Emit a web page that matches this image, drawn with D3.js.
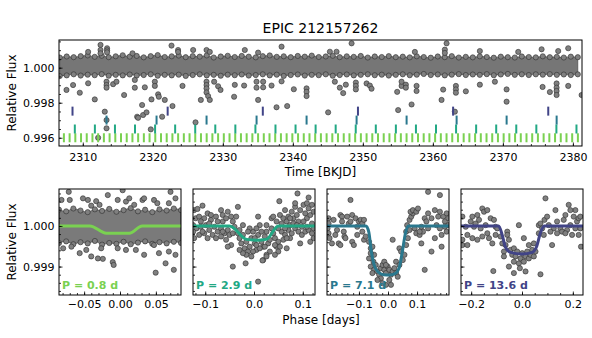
<!DOCTYPE html>
<html lang="en">
<head>
<meta charset="UTF-8">
<title>EPIC 212157262</title>
<script src="https://d3js.org/d3.v7.min.js"></script>
<style>
  body { margin: 0; background: #fff; }
  svg text { font-family: "DejaVu Sans", sans-serif; }
</style>
</head>
<body>
<div id="chart"></div>
<script>

// ---- data ----
// planets (colour follows viridis), periods / first transit in BKJD
const planetLabels = ["P = 0.8 d", "P = 2.9 d", "P = 7.1 d", "P = 13.6 d"];
const planetColors = ["#7ad151", "#22a884", "#2a788e", "#414487"];
const planetPeriods = [0.8157, 2.866, 7.143, 13.59];
const planetEpochs = [2307.3, 2308.86, 2313.39, 2308.53];
const markerLevels = [0.9960, 0.99650, 0.99701, 0.99752];

// light curve: the dense band is kept as an upper/lower envelope (1 day steps)
const bandStart = 2306.7;
const bandHi = [
1.00058,1.00064,1.00060,1.00066,1.00070,1.00062,1.00068,1.00060,1.00065,1.00071,
1.00063,1.00067,1.00059,1.00066,1.00072,1.00061,1.00065,1.00069,1.00060,1.00066,
1.00063,1.00070,1.00058,1.00064,1.00068,1.00061,1.00067,1.00063,1.00059,1.00066,
1.00070,1.00062,1.00065,1.00060,1.00067,1.00063,1.00069,1.00061,1.00064,1.00068,
1.00060,1.00065,1.00062,1.00067,1.00058,1.00064,1.00061,1.00066,1.00060,1.00063,
1.00059,1.00065,1.00061,1.00057,1.00064,1.00060,1.00066,1.00058,1.00062,1.00059,
1.00065,1.00061,1.00057,1.00063,1.00060,1.00058,1.00064,1.00061,1.00059,1.00065,
1.00060,1.00062,1.00058,1.00063,1.00060];
const bandLo = [
0.99952,0.99956,0.99962,0.99955,0.99960,0.99957,0.99963,0.99954,0.99959,0.99956,
0.99961,0.99955,0.99958,0.99962,0.99954,0.99959,0.99956,0.99960,0.99953,0.99958,
0.99962,0.99956,0.99959,0.99954,0.99960,0.99957,0.99961,0.99955,0.99958,0.99962,
0.99956,0.99960,0.99953,0.99958,0.99961,0.99955,0.99959,0.99957,0.99962,0.99954,
0.99958,0.99961,0.99956,0.99959,0.99962,0.99957,0.99960,0.99955,0.99959,0.99962,
0.99957,0.99960,0.99964,0.99958,0.99961,0.99956,0.99960,0.99963,0.99958,0.99961,
0.99959,0.99963,0.99957,0.99961,0.99964,0.99959,0.99962,0.99958,0.99962,0.99960,
0.99963,0.99959,0.99961,0.99958,0.99962];

// points outside the band [time, flux]
const lcOutliers = [
[2312.53,1.0013],[2312.53,1.00101],[2312.53,1.00082],[2313.47,1.00111],[2313.47,1.00099],[2313.47,1.00088],
[2322.67,1.00126],[2317.10,1.00082],[2323.61,1.00101],[2323.61,1.00090],[2325.76,1.00101],[2327.67,1.00101],
[2328.14,1.00090],[2333.14,1.00101],[2338.39,1.00120],[2335.04,1.00086],[2310.76,1.00090],
[2348.39,1.00139],[2361.96,1.00139],[2345.29,1.00091],[2346.24,1.00091],[2375.53,1.00105],[2379.33,1.00111],
[2361.71,1.00103],[2361.71,1.00084],[2366.71,1.00095],[2372.19,1.00090],[2377.90,1.00095],[2357.43,1.00090],
[2307.67,0.99873],[2308.61,0.99901],[2309.57,0.99857],[2310.76,0.99911],[2311.71,0.99819],[2313.14,0.99749],
[2313.39,0.99701],[2312.19,0.99600],[2313.39,0.99654],[2313.39,0.99920],[2313.39,0.99901],[2313.39,0.99886],
[2314.33,0.99906],[2314.81,0.99920],[2315.90,0.99844],[2317.43,0.99930],[2317.43,0.99886],[2317.76,0.99720],
[2317.90,0.99714],[2318.47,0.99787],[2318.61,0.99730],[2319.10,0.99745],[2318.86,0.99888],[2319.81,0.99819],
[2319.71,0.99648],[2320.29,0.99920],[2320.29,0.99896],[2320.76,0.99848],[2320.86,0.99834],[2321.33,0.99720],
[2321.71,0.99816],[2322.81,0.99781],[2324.24,0.99896],[2326.10,0.99688],[2326.86,0.99816],[2327.67,0.99920],
[2327.67,0.99901],[2327.67,0.99882],[2327.67,0.99859],[2327.90,0.99838],[2328.14,0.99816],[2328.76,0.99920],
[2329.33,0.99894],[2329.67,0.99873],[2331.61,0.99834],[2331.71,0.99902],[2333.04,0.99898],[2334.81,0.99920],
[2334.81,0.99886],[2335.04,0.99816],[2335.76,0.99920],[2335.76,0.99888],[2336.96,0.99898],[2337.67,0.99774],
[2338.39,0.99922],[2339.19,0.99781],[2340.14,0.99877],[2341.96,0.99882],[2341.96,0.99862],[2341.96,0.99838],
[2345.04,0.99745],[2346.00,0.99920],[2346.71,0.99886],[2347.19,0.99855],[2347.57,0.99903],[2349.00,0.99915],
[2349.00,0.99896],[2349.00,0.99876],[2350.53,0.99910],[2351.00,0.99898],[2351.24,0.99880],[2355.04,0.99758],
[2354.90,0.99862],[2355.53,0.99896],[2355.53,0.99920],[2356.14,0.99903],[2356.14,0.99886],[2356.96,0.99790],
[2357.67,0.99896],[2357.67,0.99867],[2361.24,0.99816],[2361.47,0.99875],[2363.14,0.99749],[2363.29,0.99896],
[2363.29,0.99876],[2363.29,0.99857],[2364.71,0.99865],[2366.71,0.99903],[2368.86,0.99920],[2370.53,0.99806],
[2370.53,0.99876],[2375.67,0.99890],[2376.71,0.99861],[2377.67,0.99910],[2377.67,0.99886],[2377.67,0.99867],
[2377.67,0.99844],[2379.33,0.99896],[2381.24,0.99844]];

// folded panels
const phaseDomains = [[-0.085, 0.085], [-0.125, 0.125], [-0.21, 0.21], [-0.24, 0.24]];
const phaseTicks = [[-0.05, 0, 0.05], [-0.1, 0, 0.1], [-0.1, 0, 0.1], [-0.2, 0, 0.2]];
const phaseMinor = [0.01, 0.02, 0.02, 0.05];
const phaseFormats = [".2f", ".1f", ".1f", ".1f"];

// P = 0.8 d: dense band as envelope + scattered points
const band08Start = -0.085;
const band08Hi = [1.00040,1.00036,1.00043,1.00038,1.00034,1.00041,1.00037,1.00042,1.00035,1.00039,1.00044,1.00036,1.00040,1.00034,1.00041,1.00038,1.00043,1.00039];
const band08Lo = [0.99958,0.99962,0.99955,0.99960,0.99957,0.99963,0.99954,0.99958,0.99956,0.99961,0.99955,0.99959,0.99962,0.99956,0.99960,0.99957,0.99961,0.99958];
const pts08 = [
[-0.0714,1.00084],[-0.0815,1.00064],[-0.0700,1.00064],[-0.0447,1.00064],[-0.0332,1.00061],[-0.0170,1.00076],
[0.0037,1.00088],[0.0083,1.00060],[0.0313,1.00064],[0.0474,1.00064],[0.0704,1.00084],[0.0681,1.00056],
[-0.0401,1.00050],[0.0198,1.00052],[0.0336,1.00068],[-0.0516,1.00068],[-0.0032,1.00064],[0.0520,1.00056],
[0.0773,1.00068],[-0.0285,1.00052],[0.0129,1.00068],
[-0.0792,0.99945],[-0.0562,0.99933],[-0.0401,0.99925],[-0.0308,0.99920],[-0.0239,0.99919],[-0.0101,0.99911],
[-0.0088,0.99904],[-0.0032,0.99945],[0.0083,0.99941],[0.0221,0.99941],[0.0336,0.99929],[0.0474,0.99953],
[0.0497,0.99885],[0.0543,0.99933],[0.0635,0.99908],[0.0681,0.99937],[0.0750,0.99892],[0.0773,0.99929],
[-0.0470,0.99941],[-0.0262,0.99945],[-0.0677,0.99949]];

const pts29 = [
[-0.1227,1.00039],[-0.1158,1.00042],[-0.1055,1.00050],[-0.1193,1.00019],[-0.1124,1.00023],[-0.1020,1.00019],
[-0.0951,1.00031],[-0.0882,1.00015],[-0.0779,1.00023],[-0.0675,1.00039],[-0.0641,1.00027],[-0.0537,1.00035],
[-0.0468,1.00023],[-0.0434,1.00011],[-0.1248,1.00002],[-0.1179,0.99994],[-0.1089,0.99998],[-0.0986,1.00002],
[-0.0917,0.99990],[-0.0813,0.99998],[-0.0744,0.99986],[-0.0675,0.99994],[-0.0606,0.99982],[-0.0537,0.99990],
[-0.0503,0.99978],[-0.1227,0.99970],[-0.1124,0.99978],[-0.1020,0.99982],[-0.0951,0.99970],[-0.0848,0.99978],
[-0.0779,0.99970],[-0.0675,0.99974],[-0.0572,0.99966],[-0.0399,0.99998],[-0.0365,1.00023],[-0.0330,1.00047],
[-0.1055,0.99986],[-0.0882,1.00027],[-0.0641,1.00011],[-0.0434,0.99982],[-0.0468,0.99953],[-0.0537,0.99949],
[-0.1089,1.00011],[-0.0744,1.00011],[-0.0572,1.00019],[-0.0917,1.00006],[-0.1248,0.99986],[-0.0641,0.99986],
[-0.0330,0.99982],[-0.0296,0.99970],[-0.0261,0.99957],[-0.0227,0.99978],[-0.0192,0.99945],[-0.0158,0.99961],
[-0.0123,0.99937],[-0.0089,0.99949],[-0.0054,0.99970],[-0.0020,0.99986],[0.0015,0.99957],[0.0049,0.99941],
[0.0084,0.99978],[0.0118,1.00002],[0.0084,1.00023],[0.0153,0.99961],[0.0187,0.99949],[0.0222,0.99974],
[0.0256,0.99986],[0.0291,0.99957],[0.0325,0.99966],[0.0360,0.99994],[0.0394,0.99982],[0.0429,0.99970],
[0.0463,0.99949],[0.0498,0.99937],[0.0498,0.99961],[0.0429,0.99929],[0.0325,0.99937],[0.0256,0.99929],
[0.0187,0.99916],[0.0118,0.99945],[-0.0020,0.99937],[-0.0158,0.99929],[-0.0227,0.99933],[-0.0296,0.99941],
[-0.0089,0.99994],[0.0049,0.99994],[0.0256,1.00002],[0.0360,1.00019],[0.0394,1.00023],[-0.0296,0.99990],
[-0.0227,1.00002],[-0.0123,0.99986],[0.0015,0.99970],[0.0153,0.99986],[0.0222,0.99949],[-0.0054,0.99925],
[0.0049,0.99953],[0.0429,0.99953],
[-0.0434,0.99900],[-0.0172,0.99908],[0.0084,0.99863],[0.0256,0.99925],[0.0174,0.99915],
[0.0532,1.00027],[0.0567,1.00006],[0.0601,1.00019],[0.0636,1.00039],[0.0670,1.00011],[0.0705,1.00023],
[0.0739,1.00002],[0.0774,1.00035],[0.0808,1.00019],[0.0843,1.00047],[0.0877,1.00027],[0.0912,1.00011],
[0.0946,1.00039],[0.0981,0.99998],[0.1015,1.00052],[0.1050,1.00031],[0.1084,1.00019],[0.1119,1.00043],
[0.1153,1.00027],[0.1188,1.00006],[0.1222,1.00035],[0.0567,0.99986],[0.0636,0.99978],[0.0705,0.99990],
[0.0774,0.99982],[0.0843,0.99994],[0.0912,0.99986],[0.0981,0.99978],[0.1050,0.99986],[0.1119,0.99990],
[0.1188,0.99982],[0.1222,0.99970],[0.0601,0.99966],[0.0739,0.99970],[0.0946,0.99957],[0.1153,0.99961],
[0.0532,0.99949],[0.0670,0.99945],[0.0891,1.00080],[0.1119,1.00070],[0.0519,1.00061],[0.0843,1.00056],
[0.1084,1.00056],[0.1188,1.00052],[0.0636,0.99994],[0.1015,1.00011],[0.0808,1.00006],[0.0463,1.00011],
[0.0498,0.99994],[0.1222,0.99994],[0.0739,1.00019],[0.0877,1.00002],[0.1084,0.99998],[0.0670,0.99970]];

const pts71 = [
[-0.2046,1.00019],[-0.2046,1.00006],[-0.2081,0.99994],[-0.2046,0.99982],[-0.2011,0.99970],[-0.1872,1.00015],
[-0.1814,0.99978],[-0.1755,0.99990],[-0.1697,0.99957],[-0.1639,1.00027],[-0.1581,1.00023],[-0.1581,1.00011],
[-0.1523,0.99986],[-0.1500,0.99974],[-0.1465,0.99970],[-0.1407,1.00023],[-0.1349,1.00006],[-0.1291,1.00064],
[-0.1291,1.00011],[-0.1233,1.00027],[-0.1233,0.99961],[-0.1175,0.99953],[-0.1117,1.00019],[-0.1059,0.99998],
[-0.1001,1.00011],[-0.0942,1.00015],[-0.0884,1.00006],[-0.0826,1.00015],[-0.0884,0.99986],[-0.1059,0.99978],
[-0.1930,0.99957],[-0.1639,0.99953],[-0.0826,0.99966],[-0.0768,0.99974],
[-0.0652,0.99961],[-0.0594,0.99945],[-0.0536,0.99949],[-0.0478,0.99929],[-0.0594,0.99933],[-0.0652,0.99920],
[-0.0501,0.99912],[-0.0420,0.99904],[-0.0594,0.99900],[-0.0478,0.99892],[-0.0536,0.99884],
[-0.0362,0.99888],[-0.0304,0.99880],[-0.0246,0.99896],[-0.0188,0.99904],[-0.0129,0.99892],[-0.0071,0.99884],
[-0.0013,0.99900],[0.0045,0.99892],[0.0103,0.99880],[0.0161,0.99888],[0.0219,0.99896],[0.0277,0.99884],
[0.0335,0.99875],[-0.0129,0.99912],[-0.0071,0.99904],[-0.0246,0.99871],[-0.0362,0.99867],[0.0045,0.99867],
[0.0103,0.99855],[-0.0071,0.99855],[0.0161,0.99966],[0.0393,0.99945],[0.0451,0.99937],[0.0277,0.99912],
[0.0393,0.99904],[0.0509,0.99916],[-0.0188,0.99859],
[0.0567,0.99929],[0.0625,0.99953],[0.0625,0.99986],[0.0684,0.99970],[0.0660,1.00002],[0.0742,1.00015],
[0.0800,1.00023],[0.0858,1.00031],
[0.0776,1.00035],[0.0858,1.00039],[0.0974,1.00035],[0.1032,1.00043],[0.0916,0.99994],[0.0974,0.99982],
[0.1090,0.99978],[0.1148,0.99998],[0.1206,0.99986],[0.1148,0.99957],[0.1264,1.00019],[0.1322,1.00011],
[0.1380,1.00031],[0.1380,0.99994],[0.1497,1.00019],[0.1497,0.99937],[0.1613,1.00039],[0.1671,1.00002],
[0.1729,1.00023],[0.1787,1.00035],[0.1787,0.99994],[0.1845,0.99978],[0.1845,0.99949],[0.1903,1.00023],
[0.1961,1.00011],[0.1961,0.99998],[0.2019,1.00031],[0.2077,1.00019],[0.2077,1.00002],[0.2019,0.99986],
[0.1380,1.00084],[0.1787,1.00076],[0.1264,0.99892],[0.1613,0.99970],[0.1090,0.99986],[0.0742,0.99990]];

const pts136 = [
[-0.2345,1.00023],[-0.2345,0.99966],[-0.2345,0.99953],[-0.2149,0.99978],[-0.2149,0.99953],[-0.2018,1.00011],
[-0.1953,1.00023],[-0.1887,0.99998],[-0.1822,1.00006],[-0.1757,1.00027],[-0.1691,1.00015],[-0.1626,0.99994],
[-0.1757,0.99966],[-0.1561,1.00043],[-0.1495,1.00035],[-0.1365,1.00039],[-0.1430,1.00002],[-0.1365,0.99982],
[-0.1299,0.99970],[-0.1234,1.00019],[-0.1103,1.00015],[-0.1038,0.99998],[-0.1168,0.99957],[-0.0972,0.99994],
[-0.2214,0.99998],[-0.1953,0.99970],[-0.1561,0.99974],[-0.1038,0.99978],
[-0.0842,0.99974],[-0.0776,0.99957],[-0.0711,0.99937],[-0.0711,0.99925],[-0.0646,0.99953],[-0.0580,0.99986],
[-0.0580,0.99978],
[-0.0515,0.99966],[-0.0450,0.99941],[-0.0384,0.99929],[-0.0319,0.99945],[-0.0253,0.99925],[-0.0188,0.99937],
[-0.0123,0.99908],[-0.0057,0.99920],[0.0008,0.99933],[0.0073,0.99912],[0.0139,0.99925],[0.0204,0.99937],
[0.0269,0.99920],[0.0335,0.99929],[0.0400,0.99941],[0.0466,0.99925],[0.0531,0.99937],[-0.0123,1.00002],
[0.0073,0.99970],[0.0269,0.99953],[0.0466,0.99957],[-0.0515,0.99900],[-0.0319,0.99884],[0.0139,0.99888],
[0.0727,0.99881],[-0.1129,0.99889],[-0.0084,0.99896],[-0.0319,0.99912],
[0.0662,0.99982],[0.0662,1.00002],[0.0727,1.00006],[0.0792,0.99994],[0.0858,0.99978],[0.0884,1.00015],
[0.0923,1.00068],[0.0988,1.00023],[0.1054,1.00002],[0.1184,0.99953],[0.1250,0.99994],[0.1315,1.00039],
[0.1380,1.00011],[0.1380,0.99982],[0.1511,0.99994],[0.1577,0.99986],[0.1642,1.00015],[0.1707,1.00027],
[0.1773,0.99990],[0.1838,1.00052],[0.1903,1.00002],[0.1969,0.99978],[0.2034,1.00023],[0.2100,0.99994],
[0.2100,1.00039],[0.2165,1.00011],[0.2230,1.00019],[0.2230,0.99978],[0.2296,0.99994],[0.2296,1.00023],
[0.2322,0.99949],[0.1903,1.00039],[0.1119,0.99986],[0.1707,0.99982]];

// transit models [phase, flux]
const model08 = [[-0.085,1],[-0.042,1],[-0.019,0.99982],[0.013,0.99982],[0.031,1],[0.085,1]];
const model29 = [[-0.125,1],[-0.050,1],[-0.015,0.99967],[0.005,0.99965],[0.025,0.99967],[0.050,1],[0.125,1]];
const model71 = [[-0.21,1],[-0.076,1],[-0.066,0.99985],[-0.058,0.99940],[-0.048,0.99905],[-0.036,0.99888],
  [-0.015,0.99880],[0.005,0.99879],[0.025,0.99883],[0.038,0.99896],[0.049,0.99935],[0.060,0.99982],[0.070,1],[0.21,1]];
const model136 = [[-0.24,1],[-0.092,1],[-0.078,0.99978],[-0.065,0.99948],[-0.045,0.99935],[0,0.99931],
  [0.040,0.99935],[0.058,0.99950],[0.072,0.99982],[0.088,1],[0.24,1]];

const panelPoints = [pts08, pts29, pts71, pts136];
const panelModels = [model08, model29, model71, model136];

// ---- drawing ----
const width = 592, height = 338;
const svg = d3.select('#chart').append('svg')
    .attr('width', width)
    .attr('height', height);

const ptFill = '#808080', ptStroke = '#2e2e2e';

function dots(g, data, x, y, r) {
    g.selectAll(null).data(data).enter().append('circle')
        .attr('cx', d => x(d[0]))
        .attr('cy', d => y(d[1]))
        .attr('r', r)
        .attr('fill', ptFill)
        .attr('stroke', ptStroke)
        .attr('stroke-width', 0.6);
}

// inward ticks, like matplotlib direction='in'
function styleAxis(g) {
    g.select('.domain').remove();
    g.selectAll('line').attr('stroke', '#000').attr('stroke-width', 0.8);
    g.selectAll('text').attr('font-size', 11).attr('fill', '#000');
}

// top panel
const topBox = {l: 59, r: 582, t: 40, b: 146};
const xTop = d3.scaleLinear().domain([2306.6, 2381.3]).range([topBox.l, topBox.r]);
const yTop = d3.scaleLinear().domain([0.99553, 1.00158]).range([topBox.b, topBox.t]);

svg.append('clipPath').attr('id', 'clip-top')
    .append('rect').attr('x', topBox.l).attr('y', topBox.t)
    .attr('width', topBox.r - topBox.l).attr('height', topBox.b - topBox.t);

const gTop = svg.append('g').attr('clip-path', 'url(#clip-top)');

const band = bandHi.map((h, i) => ({t: bandStart + i, hi: h, lo: bandLo[i]}));
gTop.append('path')
    .datum(band)
    .attr('d', d3.area().x(d => xTop(d.t)).y0(d => yTop(d.lo)).y1(d => yTop(d.hi)).curve(d3.curveMonotoneX))
    .attr('fill', '#767676')
    .attr('stroke', '#3a3a3a')
    .attr('stroke-width', 0.6);
dots(gTop, band.map(d => [d.t, d.hi]), xTop, yTop, 2.6);
dots(gTop, band.map(d => [d.t, d.lo]), xTop, yTop, 2.6);
dots(gTop, lcOutliers, xTop, yTop, 2.6);

// transit markers
planetPeriods.forEach((p, k) => {
    const n = Math.floor((xTop.domain()[1] - planetEpochs[k]) / p);
    const times = d3.range(n + 1).map(i => planetEpochs[k] + i * p);
    gTop.selectAll(null).data(times).enter().append('line')
        .attr('x1', d => xTop(d)).attr('x2', d => xTop(d))
        .attr('y1', yTop(markerLevels[k]) - 4.5)
        .attr('y2', yTop(markerLevels[k]) + 4.5)
        .attr('stroke', planetColors[k])
        .attr('stroke-width', 2);
});

svg.append('g').attr('transform', `translate(0,${topBox.b})`)
    .call(d3.axisBottom(xTop).tickValues(d3.range(2308, 2382, 2)).tickSize(-2).tickFormat(''))
    .call(styleAxis);
svg.append('g').attr('transform', `translate(0,${topBox.b})`)
    .call(d3.axisBottom(xTop).tickValues(d3.range(2310, 2381, 10)).tickSize(-3.5).tickPadding(7).tickFormat(d3.format('d')))
    .call(styleAxis);
svg.append('g').attr('transform', `translate(${topBox.l},0)`)
    .call(d3.axisLeft(yTop).tickValues(d3.range(0.996, 1.0016, 0.0005)).tickSize(-2).tickFormat(''))
    .call(styleAxis);
svg.append('g').attr('transform', `translate(${topBox.l},0)`)
    .call(d3.axisLeft(yTop).tickValues([0.996, 0.998, 1.000]).tickSize(-3.5).tickPadding(4.5).tickFormat(d3.format('.3f')))
    .call(styleAxis);

svg.append('rect').attr('x', topBox.l).attr('y', topBox.t)
    .attr('width', topBox.r - topBox.l).attr('height', topBox.b - topBox.t)
    .attr('fill', 'none').attr('stroke', '#000').attr('stroke-width', 1);

svg.append('text').attr('x', (topBox.l + topBox.r) / 2).attr('y', 33)
    .attr('text-anchor', 'middle').attr('font-size', 14).text('EPIC 212157262');
svg.append('text').attr('x', (topBox.l + topBox.r) / 2).attr('y', 176)
    .attr('text-anchor', 'middle').attr('font-size', 12).text('Time [BKJD]');
svg.append('text').attr('transform', 'rotate(-90)')
    .attr('x', -(topBox.t + topBox.b) / 2).attr('y', 16)
    .attr('text-anchor', 'middle').attr('font-size', 12).text('Relative Flux');

// folded panels
const bot = {t: 189, b: 295};
const panelLefts = [59, 193, 327, 461];
const panelW = 122;
const yBot = d3.scaleLinear().domain([0.99830, 1.00091]).range([bot.b, bot.t]);

panelLefts.forEach((left, k) => {
    const x = d3.scaleLinear().domain(phaseDomains[k]).range([left, left + panelW]);
    svg.append('clipPath').attr('id', 'clip-p' + k)
        .append('rect').attr('x', left).attr('y', bot.t)
        .attr('width', panelW).attr('height', bot.b - bot.t);
    const g = svg.append('g').attr('clip-path', `url(#clip-p${k})`);

    if (k === 0) {
        const b08 = band08Hi.map((h, i) => ({p: band08Start + i * 0.01, hi: h, lo: band08Lo[i]}));
        g.append('path')
            .datum(b08)
            .attr('d', d3.area().x(d => x(d.p)).y0(d => yBot(d.lo)).y1(d => yBot(d.hi)).curve(d3.curveMonotoneX))
            .attr('fill', '#7a7a7a')
            .attr('stroke', '#3a3a3a')
            .attr('stroke-width', 0.6);
        dots(g, b08.map(d => [d.p, d.hi]), x, yBot, 2.6);
        dots(g, b08.map(d => [d.p, d.lo]), x, yBot, 2.6);
    }
    dots(g, panelPoints[k], x, yBot, 2.6);

    g.append('path')
        .datum(panelModels[k])
        .attr('d', d3.line().x(d => x(d[0])).y(d => yBot(d[1])).curve(d3.curveMonotoneX))
        .attr('fill', 'none')
        .attr('stroke', planetColors[k])
        .attr('stroke-width', 3);

    const [d0, d1] = phaseDomains[k];
    const step = phaseMinor[k];
    const minor = d3.range(Math.ceil(d0 / step), Math.floor(d1 / step) + 1).map(i => i * step);
    svg.append('g').attr('transform', `translate(0,${bot.b})`)
        .call(d3.axisBottom(x).tickValues(minor).tickSize(-2).tickFormat(''))
        .call(styleAxis);
    svg.append('g').attr('transform', `translate(0,${bot.b})`)
        .call(d3.axisBottom(x).tickValues(phaseTicks[k]).tickSize(-3.5).tickPadding(5.5).tickFormat(d3.format(phaseFormats[k])))
        .call(styleAxis);
    svg.append('g').attr('transform', `translate(${left},0)`)
        .call(d3.axisLeft(yBot).tickValues(d3.range(0.9984, 1.0009, 0.0002)).tickSize(-2).tickFormat(''))
        .call(styleAxis);
    svg.append('g').attr('transform', `translate(${left},0)`)
        .call(d3.axisLeft(yBot).tickValues([0.999, 1.000]).tickSize(-3.5).tickPadding(4.5)
            .tickFormat(k === 0 ? d3.format('.3f') : ''))
        .call(styleAxis);

    svg.append('rect').attr('x', left).attr('y', bot.t)
        .attr('width', panelW).attr('height', bot.b - bot.t)
        .attr('fill', 'none').attr('stroke', '#000').attr('stroke-width', 1);

    svg.append('text').attr('x', left + 3).attr('y', 289)
        .attr('font-size', 11).attr('font-weight', 'bold')
        .attr('fill', planetColors[k]).text(planetLabels[k]);
});

svg.append('text').attr('x', 321).attr('y', 324)
    .attr('text-anchor', 'middle').attr('font-size', 12).text('Phase [days]');
svg.append('text').attr('transform', 'rotate(-90)')
    .attr('x', -(bot.t + bot.b) / 2).attr('y', 16)
    .attr('text-anchor', 'middle').attr('font-size', 12).text('Relative Flux');

</script>
</body>
</html>
